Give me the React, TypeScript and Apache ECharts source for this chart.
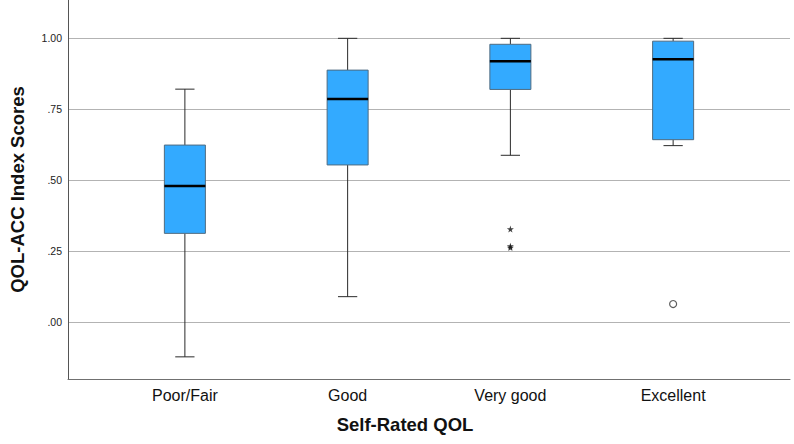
import React, { useEffect, useRef } from "react";
import * as echarts from "echarts";

// Self-rated QOL groups and their box-plot summaries (QOL-ACC index scores)
const categories = ["Poor/Fair", "Good", "Very good", "Excellent"];
const whiskerLow = [-0.122, 0.09, 0.588, 0.622];
const quartile1 = [0.313, 0.554, 0.82, 0.643];
const medians = [0.48, 0.786, 0.919, 0.926];
const quartile3 = [0.624, 0.888, 0.979, 0.99];
const whiskerHigh = [0.821, 1.0, 1.0, 1.0];

// Extreme values (asterisks) and outliers (circles): [category index, score]
const extremes = [
  [2, 0.328],
  [2, 0.268],
  [2, 0.263],
];
const outliers = [[3, 0.064]];

const yTicks = [0, 0.25, 0.5, 0.75, 1.0];

const STAR =
  "path://M50,0 L61,35 L98,35 L68,57 L79,91 L50,70 L21,91 L32,57 L2,35 L39,35 Z";

export default function App() {
  const ref = useRef<HTMLDivElement>(null);

  useEffect(() => {
    if (!ref.current) return;
    const chart = echarts.init(ref.current, null, { renderer: "svg" });

    const boxData = categories.map((_, i) => [
      i,
      whiskerLow[i],
      quartile1[i],
      medians[i],
      quartile3[i],
      whiskerHigh[i],
    ]);

    const font = "'Liberation Sans', Arial, sans-serif";

    chart.setOption({
      animation: false,
      backgroundColor: "#ffffff",
      grid: [
        { left: 68, right: 4, top: 0, bottom: 65 },
        { left: 103.5, right: 39.5, top: 0, bottom: 65 },
      ],
      xAxis: [
        {
          type: "value",
          gridIndex: 0,
          min: 0,
          max: 1,
          axisLine: {
            show: true,
            onZero: false,
            lineStyle: { color: "#707070", width: 1 },
          },
          axisTick: { show: false },
          axisLabel: { show: false },
          splitLine: { show: false },
        },
        {
          type: "category",
          gridIndex: 1,
          data: categories,
          axisLine: { show: false },
          axisTick: { show: false },
          axisLabel: {
            fontSize: 16,
            color: "#111",
            margin: 8,
            fontFamily: font,
          },
          name: "Self-Rated QOL",
          nameLocation: "middle",
          nameGap: 36,
          nameTextStyle: {
            fontSize: 18.5,
            fontWeight: "bold",
            color: "#111",
            fontFamily: font,
            padding: [0, 48, 0, 0],
          },
        },
      ],
      yAxis: [
        {
          type: "value",
          gridIndex: 0,
          min: -0.2,
          max: 1.135,
          axisLine: {
            show: true,
            onZero: false,
            lineStyle: { color: "#555", width: 1 },
          },
          axisTick: { show: false, customValues: yTicks },
          axisLabel: {
            customValues: yTicks,
            fontSize: 10.5,
            color: "#222",
            margin: 6,
            fontFamily: font,
            formatter: (v: number) => v.toFixed(2).replace(/^0/, ""),
          },
          splitLine: { show: true, lineStyle: { color: "#b3b3b3", width: 1 } },
          name: "QOL-ACC Index Scores",
          nameLocation: "middle",
          nameGap: 41,
          nameTextStyle: {
            fontSize: 18.5,
            fontWeight: "bold",
            color: "#111",
            fontFamily: font,
          },
        },
        {
          type: "value",
          gridIndex: 1,
          min: -0.2,
          max: 1.135,
          show: false,
          splitLine: { show: false },
        },
      ],
      series: [
        {
          type: "custom",
          xAxisIndex: 1,
          yAxisIndex: 1,
          data: boxData,
          encode: { x: 0, y: [1, 2, 3, 4, 5] },
          renderItem: (_params: any, api: any) => {
            const c = api.value(0);
            const lo = api.coord([c, api.value(1)]);
            const q1 = api.coord([c, api.value(2)]);
            const med = api.coord([c, api.value(3)]);
            const q3 = api.coord([c, api.value(4)]);
            const hi = api.coord([c, api.value(5)]);
            const band = api.size([1, 0])[0];
            const cx = lo[0];
            const bw = band * 0.252;
            const cw = bw * 0.47;
            const whisker = { stroke: "#2a2a2a", lineWidth: 1 };
            return {
              type: "group",
              children: [
                {
                  type: "line",
                  shape: { x1: cx, y1: hi[1], x2: cx, y2: q3[1] },
                  style: whisker,
                },
                {
                  type: "line",
                  shape: { x1: cx, y1: q1[1], x2: cx, y2: lo[1] },
                  style: whisker,
                },
                {
                  type: "line",
                  shape: { x1: cx - cw / 2, y1: hi[1], x2: cx + cw / 2, y2: hi[1] },
                  style: whisker,
                },
                {
                  type: "line",
                  shape: { x1: cx - cw / 2, y1: lo[1], x2: cx + cw / 2, y2: lo[1] },
                  style: whisker,
                },
                {
                  type: "rect",
                  shape: {
                    x: cx - bw / 2,
                    y: q3[1],
                    width: bw,
                    height: q1[1] - q3[1],
                  },
                  style: { fill: "#33aaff", stroke: "#4f6b80", lineWidth: 1 },
                },
                {
                  type: "line",
                  shape: { x1: cx - bw / 2, y1: med[1], x2: cx + bw / 2, y2: med[1] },
                  style: { stroke: "#000", lineWidth: 2.5 },
                },
              ],
            };
          },
          z: 3,
        },
        {
          type: "scatter",
          xAxisIndex: 1,
          yAxisIndex: 1,
          data: extremes,
          symbol: STAR,
          symbolSize: 7,
          itemStyle: { color: "#111" },
          z: 4,
        },
        {
          type: "scatter",
          xAxisIndex: 1,
          yAxisIndex: 1,
          data: outliers,
          symbol: "circle",
          symbolSize: 7,
          itemStyle: { color: "#fff", borderColor: "#333", borderWidth: 1.2 },
          z: 4,
        },
      ],
    });

    return () => chart.dispose();
  }, []);

  return (
    <div
      ref={ref}
      style={{ position: "fixed", left: 0, top: 0, width: 794, height: 444 }}
    />
  );
}
